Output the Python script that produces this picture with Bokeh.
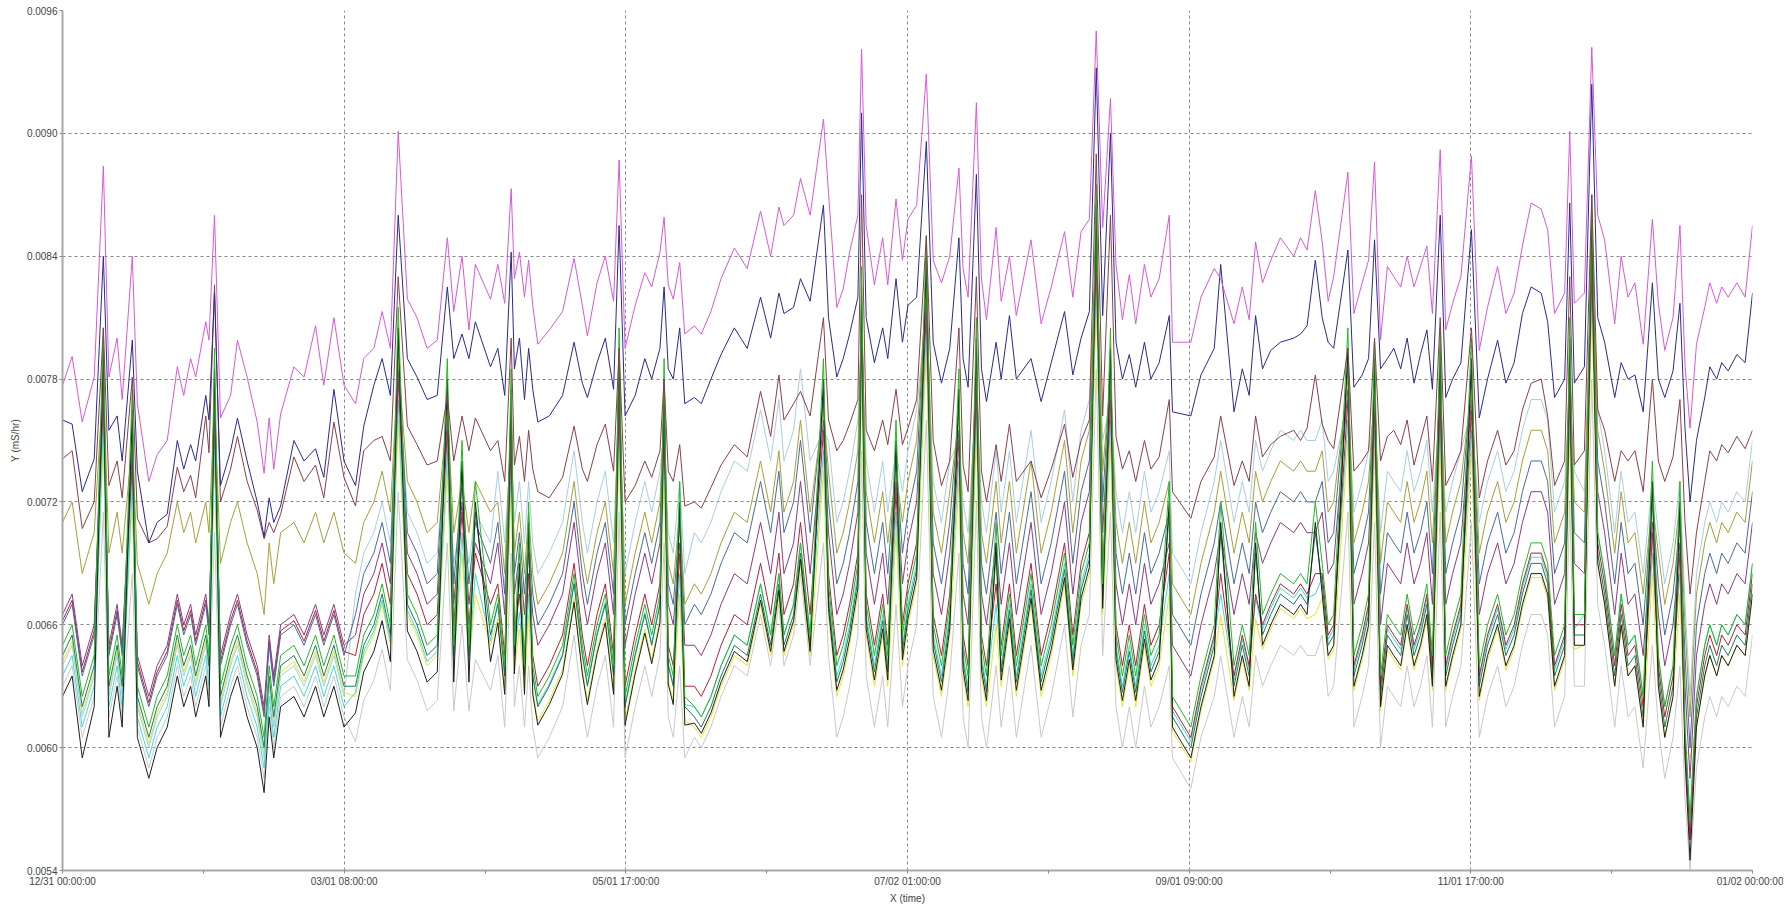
from bokeh.plotting import figure
from bokeh.models import FixedTicker, NumeralTickFormatter, Range1d
from bokeh.embed import file_html
from bokeh.resources import INLINE

# time in days since 12/31 00:00:00
T = [0, 2.1, 4.3, 6.9, 8.9, 10.1, 11.9, 13.0, 15.2, 16.3,
     18.8, 20.6, 22.8, 25.0, 26.4, 27.9, 29.0, 31.2, 31.9, 33.1,
     34.4, 36.6, 38.1, 40.2, 42.4, 43.9, 45.0, 46.0, 47.5, 50.4,
     52.6, 55.1, 56.9, 59.1, 61.3, 63.8, 65.6, 67.8, 69.6, 71.4,
     73.1, 75.1, 77.2, 79.4, 81.6, 83.8, 85.2, 87.0, 88.5, 89.9,
     93.2, 94.8, 96.3, 97.7, 98.4, 99.5, 100.6, 101.5, 102.4, 103.5,
     106.0, 108.9, 111.4, 113.2, 114.3, 116.4, 118.2, 120.0, 121.2, 122.5,
     124.7, 126.8, 128.3, 130.1, 131.0, 131.9, 133.0, 134.4, 135.5, 137.6,
     139.1, 141.2, 143.4, 146.3, 149.1, 152.0, 154.2, 156.0, 157.1, 159.2,
     160.7, 162.8, 165.7, 166.8, 168.6, 170.0, 171.4, 173.2, 174.0, 175.0,
     176.8, 178.6, 179.7, 181.5, 182.9, 184.1, 186.0, 188.1, 189.6, 191.4,
     193.2, 195.2, 196.1, 197.2, 199.0, 200.1, 201.2, 203.3, 204.4, 206.2,
     207.7, 210.9, 213.1, 215.3, 218.2, 220.0, 221.8, 223.6, 225.1, 226.5,
     228.2, 229.4, 230.8, 232.3, 233.7, 235.6, 237.0, 238.8, 241.0, 241.7,
     245.7, 247.9, 250.8, 252.2, 255.1, 256.9, 258.4, 259.8, 261.3, 263.1,
     265.2, 268.1, 269.6, 271.0, 272.8, 274.3, 275.6, 276.8, 279.9, 281.2,
     283.0, 284.4, 285.7, 287.0, 288.5, 289.9, 291.4, 292.8, 294.3, 295.7,
     297.1, 298.3, 300.0, 301.2, 302.7, 304.5, 306.8, 308.5, 310.3, 312.5,
     314.3, 316.1, 317.9, 319.8, 322.0, 323.4, 324.9, 327.1, 328.2, 329.2,
     331.4, 333.0, 334.3, 335.8, 338.0, 339.4, 340.9, 342.4, 344.2, 346.2,
     347.5, 348.9, 350.7, 352.2, 353.3, 354.4, 355.8, 357.6, 358.7, 360.2,
     361.3, 362.7, 364.6, 366.4, 368.0]

# values in units of 1e-3 mS/hr
MAGENTA = [7.77, 7.91, 7.59, 7.81, 8.84, 7.81, 8.00, 7.70, 8.40, 7.68,
           7.30, 7.43, 7.50, 7.86, 7.72, 7.90, 7.81, 8.08, 7.99, 8.60,
           7.61, 7.72, 7.99, 7.81, 7.59, 7.34, 7.61, 7.36, 7.63, 7.86,
           7.81, 8.06, 7.77, 8.10, 7.77, 7.68, 7.90, 7.95, 8.13, 7.95,
           9.01, 8.19, 8.10, 7.95, 7.99, 8.49, 8.13, 8.40, 8.04, 8.36,
           8.19, 8.36, 8.17, 8.73, 8.29, 8.42, 8.20, 8.38, 8.16, 7.97,
           8.04, 8.13, 8.39, 8.16, 8.01, 8.27, 8.40, 8.18, 8.87, 7.95,
           8.16, 8.32, 8.25, 8.42, 8.59, 8.26, 8.19, 8.37, 8.02, 8.06,
           8.02, 8.13, 8.29, 8.44, 8.34, 8.62, 8.40, 8.64, 8.55, 8.60,
           8.78, 8.60, 9.07, 8.71, 8.15, 8.24, 8.42, 8.60, 9.41, 8.55,
           8.26, 8.49, 8.26, 8.68, 8.38, 8.58, 8.65, 9.29, 8.38, 8.27,
           8.40, 8.83, 8.34, 8.20, 9.15, 8.29, 8.09, 8.54, 8.18, 8.40,
           8.11, 8.48, 8.07, 8.25, 8.52, 8.20, 8.52, 8.58, 9.50, 8.54,
           9.17, 8.36, 8.09, 8.31, 8.07, 8.36, 8.20, 8.29, 8.60, 7.98,
           7.98, 8.20, 8.34, 8.29, 8.07, 8.25, 8.09, 8.47, 8.27, 8.38,
           8.49, 8.40, 8.49, 8.43, 8.72, 8.47, 8.18, 8.30, 8.81, 8.12,
           8.27, 8.38, 8.86, 7.99, 8.35, 8.30, 8.25, 8.40, 8.25, 8.35,
           8.45, 8.12, 8.92, 8.04, 8.17, 8.30, 8.89, 7.94, 8.15, 8.35,
           8.12, 8.22, 8.45, 8.66, 8.63, 8.53, 8.12, 8.22, 9.01, 8.17,
           8.22, 9.42, 8.60, 8.48, 8.07, 8.40, 8.20, 8.27, 7.97, 8.58,
           8.17, 7.94, 8.10, 8.55, 7.87, 7.56, 7.97, 8.15, 8.27, 8.17,
           8.25, 8.20, 8.27, 8.20, 8.55]

NAVY = [7.60, 7.58, 7.25, 7.41, 8.40, 7.55, 7.62, 7.40, 7.99, 7.35,
        7.00, 7.10, 7.14, 7.50, 7.36, 7.48, 7.40, 7.72, 7.60, 8.22,
        7.28, 7.45, 7.61, 7.40, 7.20, 7.03, 7.22, 7.10, 7.18, 7.50,
        7.40, 7.46, 7.32, 7.75, 7.40, 7.28, 7.57, 7.77, 7.90, 7.72,
        8.60, 7.90, 7.81, 7.70, 7.72, 8.25, 7.90, 8.02, 7.90, 8.08,
        7.86, 7.95, 7.72, 8.42, 7.85, 8.00, 7.70, 7.95, 7.75, 7.59,
        7.62, 7.72, 7.98, 7.78, 7.71, 7.88, 8.00, 7.75, 8.55, 7.62,
        7.72, 7.90, 7.80, 7.95, 8.25, 7.85, 7.80, 8.05, 7.68, 7.71,
        7.68, 7.80, 7.92, 8.05, 7.95, 8.20, 8.00, 8.22, 8.12, 8.15,
        8.29, 8.18, 8.65, 8.10, 7.81, 7.90, 8.02, 8.20, 9.10, 8.10,
        7.88, 8.05, 7.90, 8.29, 7.98, 8.16, 8.20, 8.96, 7.98, 7.78,
        7.95, 8.49, 7.90, 7.76, 8.80, 7.85, 7.69, 7.98, 7.80, 8.11,
        7.80, 7.90, 7.69, 7.88, 8.13, 7.82, 8.00, 8.13, 9.32, 8.11,
        9.00, 7.98, 7.80, 7.92, 7.76, 7.98, 7.80, 7.88, 8.11, 7.64,
        7.62, 7.82, 7.95, 8.36, 7.64, 7.85, 7.72, 8.11, 7.85, 7.94,
        7.98, 8.00, 8.02, 8.06, 8.38, 8.10, 7.98, 7.95, 8.43, 7.76,
        7.82, 7.90, 8.48, 7.85, 7.90, 7.95, 7.85, 8.00, 7.78, 7.92,
        8.04, 7.75, 8.60, 7.71, 7.80, 7.88, 8.53, 7.61, 7.80, 7.99,
        7.78, 7.88, 8.12, 8.25, 8.22, 8.08, 7.71, 7.80, 8.66, 7.78,
        7.86, 9.24, 8.10, 7.98, 7.71, 7.88, 7.80, 7.82, 7.64, 8.27,
        7.80, 7.71, 7.84, 8.17, 7.56, 7.20, 7.50, 7.71, 7.86, 7.80,
        7.88, 7.84, 7.92, 7.88, 8.22]

BROWN = [7.41, 7.45, 7.07, 7.20, 8.05, 7.28, 7.40, 7.22, 7.81, 7.12,
         7.00, 7.02, 7.08, 7.37, 7.25, 7.33, 7.22, 7.62, 7.44, 8.26,
         7.20, 7.36, 7.52, 7.30, 7.16, 7.02, 7.10, 7.05, 7.14, 7.42,
         7.30, 7.38, 7.22, 7.59, 7.32, 7.18, 7.45, 7.50, 7.52, 7.40,
         8.30, 7.57, 7.48, 7.38, 7.40, 7.72, 7.40, 7.62, 7.45, 7.61,
         7.45, 7.50, 7.30, 8.00, 7.38, 7.52, 7.30, 7.55, 7.36, 7.25,
         7.22, 7.32, 7.57, 7.36, 7.30, 7.48, 7.58, 7.35, 7.95, 7.20,
         7.28, 7.40, 7.32, 7.45, 7.80, 7.35, 7.30, 7.48, 7.18, 7.20,
         7.17, 7.27, 7.38, 7.48, 7.42, 7.74, 7.52, 7.82, 7.60, 7.68,
         7.74, 7.62, 8.10, 7.60, 7.45, 7.50, 7.58, 7.70, 8.70, 7.55,
         7.45, 7.60, 7.48, 7.75, 7.48, 7.56, 7.70, 8.50, 7.50, 7.28,
         7.40, 8.05, 7.38, 7.25, 8.30, 7.35, 7.20, 7.48, 7.30, 7.58,
         7.30, 7.40, 7.22, 7.36, 7.58, 7.32, 7.50, 7.60, 8.90, 7.62,
         8.60, 7.52, 7.36, 7.45, 7.30, 7.50, 7.36, 7.42, 7.70, 7.25,
         7.12, 7.30, 7.42, 7.62, 7.28, 7.40, 7.30, 7.62, 7.42, 7.48,
         7.52, 7.55, 7.50, 7.56, 7.82, 7.58, 7.50, 7.46, 7.95, 7.35,
         7.40, 7.45, 8.00, 7.40, 7.52, 7.55, 7.48, 7.60, 7.38, 7.50,
         7.62, 7.30, 8.10, 7.28, 7.35, 7.45, 8.05, 7.22, 7.40, 7.55,
         7.38, 7.45, 7.65, 7.78, 7.80, 7.62, 7.28, 7.40, 8.30, 7.38,
         7.45, 8.70, 7.65, 7.55, 7.30, 7.45, 7.40, 7.45, 7.25, 7.80,
         7.40, 7.30, 7.42, 7.70, 7.10, 6.75, 7.05, 7.30, 7.45, 7.40,
         7.48, 7.44, 7.52, 7.46, 7.55]

OLIVE = [7.10, 7.20, 6.85, 7.05, 7.80, 6.95, 7.15, 6.95, 7.50, 6.90,
         6.70, 6.85, 6.95, 7.20, 7.05, 7.15, 7.00, 7.20, 7.05, 7.70,
         6.90, 7.10, 7.20, 7.00, 6.85, 6.65, 7.00, 6.80, 7.05, 7.10,
         7.00, 7.15, 7.00, 7.15, 6.95,
         6.90, 7.10, 7.20, 7.35, 7.15, 7.90, 7.30, 7.20, 7.05, 7.10,
         7.65, 7.05, 7.30, 7.05, 7.30, 7.15,
         7.20, 6.85, 7.60, 6.95, 7.15, 6.85, 7.15, 6.85, 6.70, 6.80,
         6.95, 7.30, 6.95, 6.80, 7.05, 7.20, 6.85, 7.80, 6.70, 6.95,
         7.15, 7.00, 7.20, 7.65, 6.90, 6.80, 7.15, 6.70,
         6.80, 6.75, 6.85, 7.00, 7.15, 7.10, 7.40, 7.15, 7.45, 7.15,
         7.30, 7.60, 7.15, 7.65,
         7.35, 6.95, 7.05, 7.20, 7.45, 8.10, 7.25, 7.00, 7.25, 7.00,
         7.35, 7.10, 7.30, 7.50, 8.25, 7.15, 6.95, 7.25, 7.60, 7.05,
         6.90, 7.85, 7.05, 6.90, 7.30, 7.00, 7.30, 6.95, 7.40, 6.95,
         7.15, 7.50, 7.05, 7.40, 7.55, 8.50, 7.35, 7.80, 7.10, 6.90,
         7.10, 6.90, 7.20, 7.00, 7.10, 7.30,
         6.80, 6.65, 6.90,
         7.15, 7.35, 6.95, 7.15, 7.00, 7.35, 7.20, 7.30, 7.40, 7.35,
         7.40, 7.35, 7.35, 7.45, 7.15, 7.20, 7.80, 7.00, 7.15, 7.30,
         7.75, 6.90, 7.20, 7.15, 7.10, 7.30, 7.10, 7.20, 7.35, 7.00,
         7.80, 7.00, 7.15, 7.30, 7.75, 6.95, 7.15, 7.30, 7.10, 7.20,
         7.40, 7.55, 7.55, 7.45, 7.00, 7.15, 7.85, 7.20,
         7.15, 8.45, 7.55, 7.35, 6.95, 7.25, 7.00, 7.05, 6.75, 7.20,
         6.95, 6.70, 6.90, 7.20, 6.60, 6.15, 6.75, 7.00, 7.10, 7.00,
         7.10, 7.05, 7.15, 7.10, 7.40]

LIGHTBLUE = [6.40, 6.50, 6.15, 6.35, 7.70, 6.25, 6.45, 6.25, 7.40, 6.20,
             6.00, 6.15, 6.25, 6.50, 6.35, 6.45, 6.30, 6.50, 6.35, 7.60,
             6.20, 6.40, 6.50, 6.30, 6.15, 5.95, 6.30, 6.10, 6.35, 6.40,
             6.30, 6.45, 6.30, 6.45, 6.25,
             6.75, 6.95, 7.05, 7.20, 7.00, 7.80, 7.15, 7.05, 6.90, 6.95,
             7.55, 6.90, 7.15, 6.90, 7.15, 7.00,
             7.35, 7.00, 7.50, 7.10, 7.30, 7.00, 7.30, 7.00, 6.85, 6.95,
             7.10, 7.45, 7.10, 6.95, 7.20, 7.35, 7.00, 7.70, 6.85, 7.10,
             7.30, 7.15, 7.35, 7.55, 7.05, 6.95, 7.30, 6.85,
             7.05, 7.00, 7.10, 7.25, 7.40, 7.35, 7.65, 7.40, 7.70, 7.40,
             7.55, 7.85, 7.40, 7.55,
             7.50, 7.10, 7.20, 7.35, 7.60, 8.00, 7.40, 7.15, 7.40, 7.15,
             7.45, 7.25, 7.45, 7.65, 8.15, 7.30, 7.10, 7.40, 7.50, 7.20,
             7.05, 7.75, 7.20, 7.05, 7.45, 7.15, 7.45, 7.10, 7.55, 7.10,
             7.30, 7.65, 7.20, 7.55, 7.70, 8.40, 7.50, 7.70, 7.25, 7.05,
             7.25, 7.05, 7.35, 7.15, 7.25, 7.45,
             6.95, 6.80, 7.05,
             7.30, 7.50, 7.10, 7.30, 7.15, 7.50, 7.35, 7.45, 7.55, 7.50,
             7.55, 7.50, 7.50, 7.60, 7.30, 7.35, 7.70, 7.15, 7.30, 7.45,
             7.65, 7.05, 7.35, 7.30, 7.25, 7.45, 7.25, 7.35, 7.50, 7.15,
             7.70, 7.15, 7.30, 7.45, 7.65, 7.10, 7.30, 7.45, 7.25, 7.35,
             7.55, 7.70, 7.70, 7.60, 7.15, 7.30, 7.75, 7.35,
             7.25, 8.35, 7.65, 7.45, 7.05, 7.35, 7.10, 7.15, 6.85, 7.30,
             7.05, 6.80, 7.00, 7.30, 6.70, 6.25, 6.85, 7.10, 7.20, 7.10,
             7.20, 7.15, 7.25, 7.20, 7.50]

SLATE = [6.60, 6.70, 6.35, 6.55, 7.85, 6.45, 6.65, 6.45, 7.55, 6.40,
         6.20, 6.35, 6.45, 6.70, 6.55, 6.65, 6.50, 6.70, 6.55, 7.75,
         6.40, 6.60, 6.70, 6.50, 6.35, 6.15, 6.50, 6.30, 6.55, 6.60,
         6.50, 6.65, 6.50, 6.65, 6.45,
         6.65, 6.85, 6.95, 7.10, 6.90, 7.95, 7.05, 6.95, 6.80, 6.85,
         7.70, 6.80, 7.30, 6.80, 7.10, 6.90,
         7.10, 6.75, 7.65, 6.85, 7.05, 6.75, 7.05, 6.75, 6.60, 6.70,
         6.85, 7.20, 6.85, 6.70, 6.95, 7.10, 6.75, 7.85, 6.60, 6.85,
         7.05, 6.90, 7.10, 7.70, 6.80, 6.70, 7.10, 6.60,
         6.70, 6.65, 6.75, 6.90, 7.05, 7.00, 7.30, 7.05, 7.35, 7.05,
         7.20, 7.50, 7.05, 7.70,
         7.20, 6.80, 6.90, 7.05, 7.30, 8.15, 7.10, 6.85, 7.10, 6.85,
         7.40, 6.95, 7.15, 7.35, 8.30, 7.00, 6.80, 7.10, 7.65, 6.90,
         6.75, 7.90, 6.90, 6.75, 7.15, 6.85, 7.15, 6.80, 7.25, 6.80,
         7.00, 7.35, 6.90, 7.25, 7.40, 8.55, 7.20, 7.85, 6.95, 6.75,
         6.95, 6.75, 7.05, 6.85, 6.95, 7.15,
         6.65, 6.50, 6.75,
         7.00, 7.20, 6.80, 7.00, 6.85, 7.20, 7.05, 7.15, 7.25, 7.20,
         7.25, 7.20, 7.20, 7.30, 7.00, 7.05, 7.85, 6.85, 7.00, 7.15,
         7.80, 6.75, 7.05, 7.00, 6.95, 7.15, 6.95, 7.05, 7.20, 6.85,
         7.85, 6.85, 7.00, 7.15, 7.80, 6.80, 7.00, 7.15, 6.95, 7.05,
         7.25, 7.40, 7.40, 7.30, 6.85, 7.00, 7.90, 7.05,
         7.00, 8.50, 7.40, 7.20, 6.80, 7.10, 6.85, 6.90, 6.60, 7.20,
         6.80, 6.55, 6.75, 7.10, 6.45, 6.00, 6.60, 6.85, 6.95, 6.85,
         6.95, 6.90, 7.00, 6.95, 7.25]

PURPLE = [6.65, 6.75, 6.40, 6.60, 7.75, 6.50, 6.70, 6.50, 7.45, 6.45,
          6.25, 6.40, 6.50, 6.75, 6.60, 6.70, 6.55, 6.75, 6.60, 7.65,
          6.45, 6.65, 6.75, 6.55, 6.40, 6.20, 6.55, 6.35, 6.60, 6.65,
          6.55, 6.70, 6.55, 6.70, 6.50,
          6.55, 6.75, 6.85, 7.00, 6.80, 7.85, 6.95, 6.85, 6.70, 6.75,
          7.60, 6.70, 7.20, 6.70, 7.00, 6.80,
          7.00, 6.65, 7.55, 6.75, 6.95, 6.65, 6.95, 6.65, 6.50, 6.60,
          6.75, 7.10, 6.75, 6.60, 6.85, 7.00, 6.65, 7.75, 6.50, 6.75,
          6.95, 6.80, 7.00, 7.60, 6.70, 6.60, 7.00, 6.50,
          6.50, 6.45, 6.55, 6.70, 6.85, 6.80, 7.10, 6.85, 7.15, 6.85,
          7.00, 7.30, 6.85, 7.60,
          7.05, 6.65, 6.75, 6.90, 7.15, 8.05, 6.95, 6.70, 6.95, 6.70,
          7.30, 6.80, 7.00, 7.20, 8.20, 6.85, 6.65, 6.95, 7.55, 6.75,
          6.60, 7.80, 6.75, 6.60, 7.00, 6.70, 7.00, 6.65, 7.10, 6.65,
          6.85, 7.20, 6.75, 7.10, 7.25, 8.45, 7.05, 7.75, 6.80, 6.60,
          6.80, 6.60, 6.90, 6.70, 6.80, 7.00,
          6.50, 6.35, 6.60,
          6.85, 7.05, 6.65, 6.85, 6.70, 7.05, 6.90, 7.00, 7.10, 7.05,
          7.10, 7.05, 7.05, 7.15, 6.85, 6.90, 7.75, 6.70, 6.85, 7.00,
          7.70, 6.60, 6.90, 6.85, 6.80, 7.00, 6.80, 6.90, 7.05, 6.70,
          7.75, 6.70, 6.85, 7.00, 7.70, 6.65, 6.85, 7.00, 6.80, 6.90,
          7.10, 7.25, 7.25, 7.15, 6.70, 6.85, 7.80, 6.90,
          6.85, 8.40, 7.25, 7.05, 6.65, 6.95, 6.70, 6.75, 6.45, 7.10,
          6.65, 6.40, 6.60, 7.00, 6.30, 5.85, 6.45, 6.70, 6.80, 6.70,
          6.80, 6.75, 6.85, 6.80, 7.10]

DARKRED = [6.62, 6.72, 6.37, 6.57, 7.70, 6.47, 6.67, 6.47, 7.40, 6.42,
           6.22, 6.37, 6.47, 6.72, 6.57, 6.67, 6.52, 6.72, 6.57, 7.60,
           6.42, 6.62, 6.72, 6.52, 6.37, 6.17, 6.52, 6.32, 6.57, 6.62,
           6.52, 6.67, 6.52, 6.67, 6.47,
           6.45, 6.65, 6.75, 6.90, 6.70, 7.80, 6.85, 6.75, 6.60, 6.65,
           7.55, 6.60, 7.15, 6.60, 6.95, 6.70,
           6.80, 6.45, 7.50, 6.55, 6.75, 6.45, 6.85, 6.45, 6.30, 6.40,
           6.55, 6.90, 6.55, 6.40, 6.65, 6.80, 6.45, 7.70, 6.30, 6.55,
           6.75, 6.60, 6.80, 7.55, 6.50, 6.40, 6.95, 6.30,
           6.30, 6.25, 6.35, 6.50, 6.65, 6.60, 6.90, 6.65, 6.95, 6.65,
           6.80, 7.10, 6.65, 7.55,
           6.85, 6.45, 6.55, 6.70, 6.95, 8.00, 6.75, 6.50, 6.75, 6.50,
           7.25, 6.60, 6.80, 7.00, 8.15, 6.65, 6.45, 6.75, 7.50, 6.55,
           6.40, 7.75, 6.55, 6.40, 6.80, 6.50, 6.80, 6.45, 6.90, 6.45,
           6.65, 7.00, 6.55, 6.90, 7.05, 8.40, 6.85, 7.70, 6.60, 6.40,
           6.60, 6.40, 6.70, 6.50, 6.60, 6.95,
           6.20, 6.05, 6.30,
           6.55, 6.85, 6.35, 6.55, 6.40, 6.75, 6.60, 6.70, 6.80, 6.75,
           6.80, 6.75, 6.85, 6.85, 6.55, 6.60, 7.70, 6.40, 6.55, 6.70,
           7.65, 6.30, 6.60, 6.55, 6.50, 6.70, 6.50, 6.60, 6.75, 6.40,
           7.70, 6.40, 6.55, 6.70, 7.65, 6.35, 6.55, 6.70, 6.50, 6.60,
           6.80, 6.95, 6.95, 6.85, 6.40, 6.55, 7.75, 6.60,
           6.60, 8.35, 7.00, 6.80, 6.40, 6.70, 6.45, 6.50, 6.20, 7.05,
           6.40, 6.15, 6.35, 6.95, 6.05, 5.55, 6.20, 6.45, 6.55, 6.45,
           6.55, 6.50, 6.60, 6.55, 6.85]

GREEN = [6.50, 6.60, 6.25, 6.45, 8.05, 6.35, 6.55, 6.35, 7.75, 6.30,
         6.10, 6.25, 6.35, 6.60, 6.45, 6.55, 6.40, 6.60, 6.45, 7.95,
         6.30, 6.50, 6.60, 6.40, 6.25, 6.05, 6.40, 6.20, 6.45, 6.50,
         6.40, 6.55, 6.40, 6.55, 6.35,
         6.35, 6.55, 6.65, 6.80, 6.60, 8.15, 6.75, 6.65, 6.50, 6.55,
         7.90, 6.50, 7.50, 6.50, 7.30, 6.60,
         6.75, 6.40, 7.85, 6.50, 7.00, 6.40, 7.20, 6.40, 6.25, 6.35,
         6.50, 6.85, 6.50, 6.35, 6.60, 6.75, 6.40, 8.05, 6.25, 6.50,
         6.70, 6.55, 6.75, 7.90, 6.45, 6.35, 7.30, 6.25,
         6.20, 6.15, 6.25, 6.40, 6.55, 6.50, 6.80, 6.55, 6.85, 6.55,
         6.70, 7.00, 6.55, 7.90,
         6.80, 6.40, 6.50, 6.65, 6.90, 8.35, 6.70, 6.45, 6.70, 6.45,
         7.60, 6.55, 6.75, 6.95, 8.50, 6.60, 6.40, 6.70, 7.85, 6.50,
         6.35, 8.10, 6.50, 6.35, 7.10, 6.45, 6.75, 6.40, 6.85, 6.40,
         6.60, 6.95, 6.50, 6.85, 7.00, 8.75, 6.80, 8.05, 6.55, 6.35,
         6.55, 6.35, 6.65, 6.45, 6.55, 7.30,
         6.25, 6.10, 6.35,
         6.60, 7.20, 6.40, 6.60, 6.45, 7.10, 6.65, 6.75, 6.85, 6.80,
         6.85, 6.80, 7.20, 6.90, 6.60, 6.65, 8.05, 6.45, 6.60, 6.75,
         8.00, 6.35, 6.65, 6.60, 6.55, 6.75, 6.55, 6.65, 6.80, 6.45,
         8.05, 6.45, 6.60, 6.75, 8.00, 6.40, 6.60, 6.75, 6.55, 6.65,
         6.85, 7.00, 7.00, 6.90, 6.45, 6.60, 8.10, 6.65,
         6.65, 8.70, 7.05, 6.85, 6.45, 6.75, 6.50, 6.55, 6.25, 7.40,
         6.45, 6.20, 6.40, 7.30, 6.10, 5.65, 6.25, 6.50, 6.60, 6.50,
         6.60, 6.55, 6.65, 6.60, 6.90]

TEAL = [6.45, 6.55, 6.20, 6.40, 7.90, 6.30, 6.50, 6.30, 7.60, 6.25,
        6.05, 6.20, 6.30, 6.55, 6.40, 6.50, 6.35, 6.55, 6.40, 7.80,
        6.25, 6.45, 6.55, 6.35, 6.20, 6.00, 6.35, 6.15, 6.40, 6.45,
        6.35, 6.50, 6.35, 6.50, 6.30,
        6.30, 6.50, 6.60, 6.75, 6.55, 8.00, 6.70, 6.60, 6.45, 6.50,
        7.75, 6.45, 7.35, 6.45, 7.15, 6.55,
        6.70, 6.35, 7.70, 6.45, 6.85, 6.35, 7.05, 6.35, 6.20, 6.30,
        6.45, 6.80, 6.45, 6.30, 6.55, 6.70, 6.35, 7.90, 6.20, 6.45,
        6.65, 6.50, 6.70, 7.75, 6.40, 6.30, 7.15, 6.20,
        6.15, 6.10, 6.20, 6.35, 6.50, 6.45, 6.75, 6.50, 6.80, 6.50,
        6.65, 6.95, 6.50, 7.75,
        6.72, 6.32, 6.42, 6.57, 6.82, 8.20, 6.62, 6.37, 6.62, 6.37,
        7.45, 6.47, 6.67, 6.87, 8.35, 6.52, 6.32, 6.62, 7.70, 6.42,
        6.27, 7.95, 6.42, 6.27, 6.95, 6.37, 6.67, 6.32, 6.77, 6.32,
        6.52, 6.87, 6.42, 6.77, 6.92, 8.60, 6.72, 7.90, 6.47, 6.27,
        6.47, 6.27, 6.57, 6.37, 6.47, 7.15,
        6.15, 6.00, 6.25,
        6.50, 7.05, 6.30, 6.50, 6.35, 6.95, 6.55, 6.65, 6.75, 6.70,
        6.75, 6.70, 7.05, 6.80, 6.50, 6.55, 7.90, 6.35, 6.50, 6.65,
        7.85, 6.25, 6.55, 6.50, 6.45, 6.65, 6.45, 6.55, 6.70, 6.35,
        7.90, 6.35, 6.50, 6.65, 7.85, 6.30, 6.50, 6.65, 6.45, 6.55,
        6.75, 6.90, 6.90, 6.80, 6.35, 6.50, 7.95, 6.55,
        6.55, 8.55, 6.95, 6.75, 6.35, 6.65, 6.40, 6.45, 6.15, 7.25,
        6.35, 6.10, 6.30, 7.15, 6.00, 5.55, 6.15, 6.40, 6.50, 6.40,
        6.50, 6.45, 6.55, 6.50, 6.80]

YELLOW = [6.42, 6.52, 6.17, 6.37, 7.50, 6.27, 6.47, 6.27, 7.20, 6.22,
          6.02, 6.17, 6.27, 6.52, 6.37, 6.47, 6.32, 6.52, 6.37, 7.40,
          6.22, 6.42, 6.52, 6.32, 6.17, 5.97, 6.32, 6.12, 6.37, 6.42,
          6.32, 6.47, 6.32, 6.47, 6.27,
          6.25, 6.45, 6.55, 6.70, 6.50, 7.60, 6.65, 6.55, 6.40, 6.45,
          7.35, 6.40, 6.95, 6.40, 6.75, 6.50,
          6.63, 6.28, 7.30, 6.38, 6.58, 6.28, 6.65, 6.28, 6.13, 6.23,
          6.38, 6.73, 6.38, 6.23, 6.48, 6.63, 6.28, 7.50, 6.13, 6.38,
          6.58, 6.43, 6.63, 7.35, 6.33, 6.23, 6.75, 6.13,
          6.10, 6.05, 6.15, 6.30, 6.45, 6.40, 6.70, 6.45, 6.75, 6.45,
          6.60, 6.90, 6.45, 7.35,
          6.65, 6.25, 6.35, 6.50, 6.75, 7.80, 6.55, 6.30, 6.55, 6.30,
          7.05, 6.40, 6.60, 6.80, 7.95, 6.45, 6.25, 6.55, 7.30, 6.35,
          6.20, 7.55, 6.35, 6.20, 6.60, 6.30, 6.60, 6.25, 6.70, 6.25,
          6.45, 6.80, 6.35, 6.70, 6.85, 8.20, 6.65, 7.50, 6.40, 6.20,
          6.40, 6.20, 6.50, 6.30, 6.40, 6.75,
          6.08, 5.93, 6.18,
          6.43, 6.65, 6.23, 6.43, 6.28, 6.63, 6.48, 6.58, 6.68, 6.63,
          6.68, 6.63, 6.65, 6.73, 6.43, 6.48, 7.50, 6.28, 6.43, 6.58,
          7.45, 6.18, 6.48, 6.43, 6.38, 6.58, 6.38, 6.48, 6.63, 6.28,
          7.50, 6.28, 6.43, 6.58, 7.45, 6.23, 6.43, 6.58, 6.38, 6.48,
          6.68, 6.83, 6.83, 6.73, 6.28, 6.43, 7.55, 6.48,
          6.50, 8.15, 6.90, 6.70, 6.30, 6.60, 6.35, 6.40, 6.10, 6.85,
          6.30, 6.05, 6.25, 6.75, 6.00, 5.95, 6.10, 6.35, 6.45, 6.35,
          6.45, 6.40, 6.50, 6.45, 6.75]

CYAN = [6.35, 6.45, 6.10, 6.30, 7.60, 6.20, 6.40, 6.20, 7.30, 6.15,
        5.95, 6.10, 6.20, 6.45, 6.30, 6.40, 6.25, 6.45, 6.30, 7.50,
        6.15, 6.35, 6.45, 6.25, 6.10, 5.90, 6.25, 6.05, 6.30, 6.35,
        6.25, 6.40, 6.25, 6.40, 6.20,
        6.27, 6.47, 6.57, 6.72, 6.52, 7.70, 6.67, 6.57, 6.42, 6.47,
        7.45, 6.42, 7.05, 6.42, 6.85, 6.52,
        6.71, 6.36, 7.40, 6.46, 6.66, 6.36, 6.75, 6.36, 6.21, 6.31,
        6.46, 6.81, 6.46, 6.31, 6.56, 6.71, 6.36, 7.60, 6.21, 6.46,
        6.66, 6.51, 6.71, 7.45, 6.41, 6.31, 6.85, 6.21,
        6.20, 6.15, 6.25, 6.40, 6.55, 6.50, 6.80, 6.55, 6.85, 6.55,
        6.70, 7.00, 6.55, 7.45,
        6.75, 6.35, 6.45, 6.60, 6.85, 7.90, 6.65, 6.40, 6.65, 6.40,
        7.15, 6.50, 6.70, 6.90, 8.05, 6.55, 6.35, 6.65, 7.40, 6.45,
        6.30, 7.65, 6.45, 6.30, 6.70, 6.40, 6.70, 6.35, 6.80, 6.35,
        6.55, 6.90, 6.45, 6.80, 6.95, 8.30, 6.75, 7.60, 6.50, 6.30,
        6.50, 6.30, 6.60, 6.40, 6.50, 6.85,
        6.18, 6.03, 6.28,
        6.53, 6.75, 6.33, 6.53, 6.38, 6.73, 6.58, 6.68, 6.78, 6.73,
        6.78, 6.73, 6.75, 6.83, 6.53, 6.58, 7.60, 6.38, 6.53, 6.68,
        7.55, 6.28, 6.58, 6.53, 6.48, 6.68, 6.48, 6.58, 6.73, 6.38,
        7.60, 6.38, 6.53, 6.68, 7.55, 6.33, 6.53, 6.68, 6.48, 6.58,
        6.78, 6.93, 6.93, 6.83, 6.38, 6.53, 7.65, 6.58,
        6.65, 8.25, 7.05, 6.85, 6.45, 6.75, 6.50, 6.55, 6.25, 6.95,
        6.45, 6.20, 6.40, 6.85, 6.10, 5.65, 6.25, 6.50, 6.60, 6.50,
        6.60, 6.55, 6.65, 6.60, 6.90]

BLACK = [6.25, 6.35, 5.95, 6.20, 7.95, 6.05, 6.30, 6.10, 7.65, 6.05,
         5.85, 6.00, 6.10, 6.35, 6.20, 6.30, 6.15, 6.35, 6.20, 7.85,
         6.05, 6.25, 6.35, 6.15, 6.00, 5.78, 6.15, 5.95, 6.20, 6.25,
         6.15, 6.30, 6.15, 6.30, 6.10,
         6.17, 6.37, 6.47, 6.62, 6.42, 8.05, 6.57, 6.47, 6.32, 6.37,
         7.80, 6.32, 7.40, 6.32, 7.20, 6.42,
         6.61, 6.26, 7.75, 6.36, 6.90, 6.26, 7.10, 6.26, 6.11, 6.21,
         6.36, 6.71, 6.36, 6.21, 6.46, 6.61, 6.26, 7.95, 6.11, 6.36,
         6.56, 6.41, 6.61, 7.80, 6.31, 6.21, 7.20, 6.11,
         6.12, 6.07, 6.17, 6.32, 6.47, 6.42, 6.72, 6.47, 6.77, 6.47,
         6.62, 6.92, 6.47, 7.80,
         6.68, 6.28, 6.38, 6.53, 6.78, 8.25, 6.58, 6.33, 6.58, 6.33,
         7.50, 6.43, 6.63, 6.83, 8.40, 6.48, 6.28, 6.58, 7.75, 6.38,
         6.23, 8.00, 6.38, 6.23, 7.00, 6.33, 6.63, 6.28, 6.73, 6.28,
         6.48, 6.83, 6.38, 6.73, 6.88, 8.65, 6.68, 7.95, 6.43, 6.23,
         6.43, 6.23, 6.53, 6.33, 6.43, 7.20,
         6.10, 5.95, 6.20,
         6.45, 7.10, 6.25, 6.45, 6.30, 7.00, 6.50, 6.60, 6.70, 6.65,
         6.70, 6.65, 7.10, 6.75, 6.45, 6.50, 7.95, 6.30, 6.45, 6.60,
         7.90, 6.20, 6.50, 6.45, 6.40, 6.60, 6.40, 6.50, 6.65, 6.30,
         7.95, 6.30, 6.45, 6.60, 7.90, 6.25, 6.45, 6.60, 6.40, 6.50,
         6.70, 6.85, 6.85, 6.75, 6.30, 6.45, 8.00, 6.50,
         6.50, 8.60, 6.90, 6.70, 6.30, 6.60, 6.35, 6.40, 6.10, 7.30,
         6.30, 6.05, 6.25, 7.20, 5.95, 5.45, 6.10, 6.35, 6.45, 6.35,
         6.45, 6.40, 6.50, 6.45, 6.75]

GRAY = [6.30, 6.40, 6.05, 6.25, 7.15, 6.15, 6.35, 6.15, 6.85, 6.10,
        5.90, 6.05, 6.15, 6.40, 6.25, 6.35, 6.20, 6.40, 6.25, 7.05,
        6.10, 6.30, 6.40, 6.20, 6.05, 5.85, 6.20, 6.00, 6.25, 6.30,
        6.20, 6.35, 6.20, 6.35, 6.15,
        6.03, 6.23, 6.33, 6.48, 6.28, 7.25, 6.43, 6.33, 6.18, 6.23,
        7.00, 6.18, 6.60, 6.18, 6.43, 6.28,
        6.45, 6.10, 6.95, 6.20, 6.40, 6.10, 6.40, 6.10, 5.95, 6.05,
        6.20, 6.55, 6.20, 6.05, 6.30, 6.45, 6.10, 7.15, 5.95, 6.20,
        6.40, 6.25, 6.45, 7.00, 6.15, 6.05, 6.40, 5.95,
        6.05, 6.00, 6.10, 6.25, 6.40, 6.35, 6.65, 6.40, 6.70, 6.40,
        6.55, 6.85, 6.40, 7.00,
        6.45, 6.05, 6.15, 6.30, 6.55, 7.45, 6.35, 6.10, 6.35, 6.10,
        6.70, 6.20, 6.40, 6.60, 7.60, 6.25, 6.05, 6.35, 6.95, 6.15,
        6.00, 7.20, 6.15, 6.00, 6.40, 6.10, 6.40, 6.05, 6.50, 6.05,
        6.25, 6.60, 6.15, 6.50, 6.65, 7.85, 6.45, 7.15, 6.20, 6.00,
        6.20, 6.00, 6.30, 6.10, 6.20, 6.40,
        5.95, 5.80, 6.05,
        6.25, 6.45, 6.05, 6.25, 6.10, 6.45, 6.30, 6.40, 6.50, 6.45,
        6.50, 6.45, 6.45, 6.55, 6.25, 6.30, 7.15, 6.10, 6.25, 6.40,
        7.10, 6.00, 6.30, 6.25, 6.20, 6.40, 6.20, 6.30, 6.45, 6.10,
        7.15, 6.10, 6.25, 6.40, 7.10, 6.05, 6.25, 6.40, 6.20, 6.30,
        6.50, 6.65, 6.65, 6.55, 6.10, 6.25, 7.20, 6.30,
        6.30, 7.80, 6.70, 6.50, 6.10, 6.40, 6.15, 6.20, 5.90, 6.50,
        6.10, 5.85, 6.05, 6.40, 5.75, 5.40, 5.90, 6.15, 6.25, 6.15,
        6.25, 6.20, 6.30, 6.25, 6.55]

# axis ticks
X_TICKS = [0, 61.33, 122.67, 184.0, 245.33, 306.67, 368.0]
X_MINOR = [30.67, 92.0, 153.33, 214.67, 276.0, 337.33]
X_LABELS = ["12/31 00:00:00", "03/01 08:00:00", "05/01 17:00:00", "07/02 01:00:00",
            "09/01 09:00:00", "11/01 17:00:00", "01/02 00:00:00"]
Y_TICKS = [0.0054, 0.0060, 0.0066, 0.0072, 0.0078, 0.0084, 0.0090, 0.0096]

# draw order: bottom first
SERIES = [
    ("gray", "#C9C9C9", GRAY),
    ("yellow", "#E6E632", YELLOW),
    ("lightblue", "#A9CDE6", LIGHTBLUE),
    ("cyan", "#3FDCD2", CYAN),
    ("teal", "#1F7A5C", TEAL),
    ("darkred", "#B0203A", DARKRED),
    ("purple", "#8E3A82", PURPLE),
    ("slate", "#4A6A9E", SLATE),
    ("olive", "#A5A03C", OLIVE),
    ("black", "#1E1E1E", BLACK),
    ("green", "#25B825", GREEN),
    ("brown", "#8A4048", BROWN),
    ("navy", "#2A2A8E", NAVY),
    ("magenta", "#D958D9", MAGENTA),
]

for name, _, vals in SERIES:
    assert len(vals) == len(T), (name, len(vals), len(T))

p = figure(width=1783, height=906, output_backend="svg", toolbar_location=None,
           x_range=Range1d(0, 368), y_range=Range1d(0.0054, 0.0096),
           min_border_left=62, min_border_right=31, min_border_top=10, min_border_bottom=36)
p.outline_line_color = None
p.background_fill_color = "white"
p.border_fill_color = "white"

for name, color, vals in SERIES:
    p.line(T, [v * 1e-3 for v in vals], line_color=color, line_width=1)

xt = FixedTicker(ticks=X_TICKS, minor_ticks=X_MINOR)
yt = FixedTicker(ticks=Y_TICKS)
p.xaxis.ticker = xt
p.yaxis.ticker = yt
p.xgrid.ticker = xt
p.ygrid.ticker = yt
p.xaxis.major_label_overrides = {t: l for t, l in zip(X_TICKS, X_LABELS)}
p.yaxis.formatter = NumeralTickFormatter(format="0.0000")

for ax in (p.xaxis, p.yaxis):
    ax.axis_line_color = "#A8A8A8"
    ax.axis_line_width = 2
    ax.major_tick_line_color = "#888888"
    ax.minor_tick_line_color = "#888888"
    ax.major_tick_in = 0
    ax.major_tick_out = 3
    ax.minor_tick_in = 0
    ax.minor_tick_out = 3
    ax.major_label_text_font = "Liberation Sans"
    ax.major_label_text_font_size = "10px"
    ax.major_label_text_color = "#444444"
    ax.major_label_standoff = 2
    ax.axis_label_text_font = "Liberation Sans"
    ax.axis_label_text_font_size = "10px"
    ax.axis_label_text_font_style = "normal"
    ax.axis_label_text_color = "#444444"
    ax.axis_label_standoff = 3
p.yaxis.minor_tick_line_color = None
p.xaxis.axis_label = "X (time)"
p.yaxis.axis_label = "Y (mS/hr)"

for g in (p.xgrid, p.ygrid):
    g.grid_line_color = "#7A7A7A"
    g.grid_line_dash = "3 3"
    g.grid_line_width = 1
    g.grid_line_alpha = 0.9

open("out.html", "w").write(file_html(p, INLINE))
